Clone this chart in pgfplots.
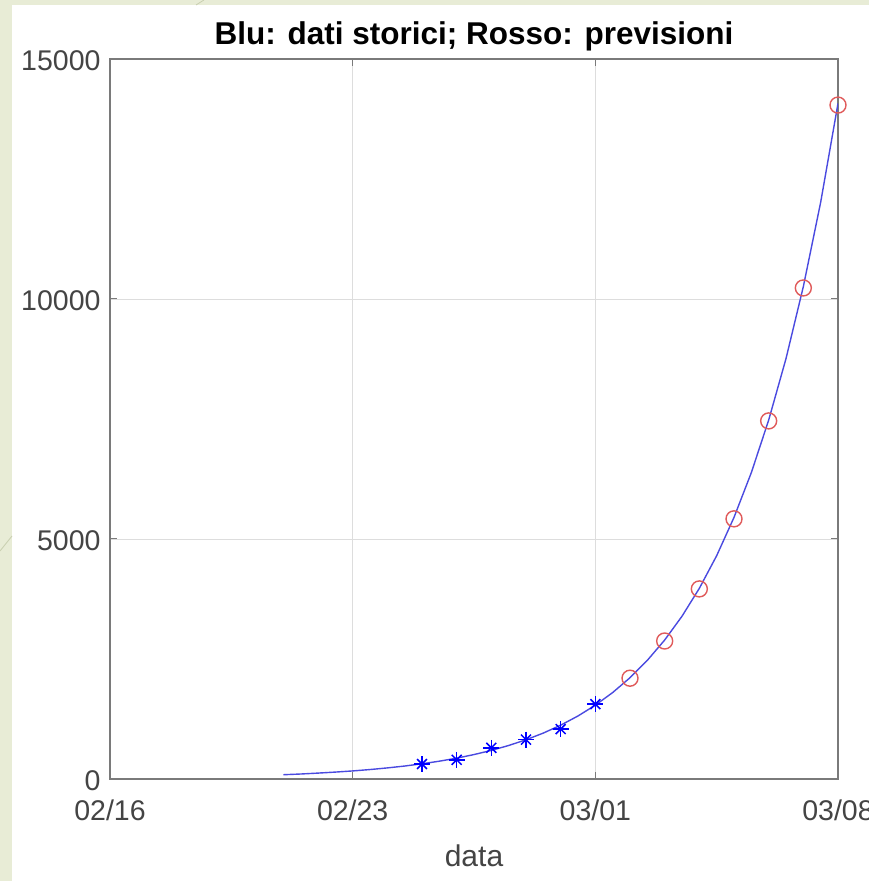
\documentclass[border=0pt]{standalone}
\usepackage{pgfplots}
\pgfplotsset{compat=1.18}
\usepackage{fontspec}
\setmainfont{Liberation Sans}
\definecolor{bgbeige}{HTML}{E8ECD6}
\definecolor{decoline}{HTML}{C9CFB0}
\definecolor{axgray}{HTML}{7A7A7A}
\definecolor{ticktext}{HTML}{444444}
\definecolor{gridgray}{HTML}{DDDDDD}
\definecolor{fitblue}{HTML}{4A4AE0}
\definecolor{predred}{HTML}{E05A5A}
\begin{document}
\begin{tikzpicture}[x=1pt,y=1pt]
\path[use as bounding box] (0,0) rectangle (869,881);
\fill[bgbeige] (0,0) rectangle (869,881);
\fill[white] (12,0) rectangle (869,876);
\draw[decoline, line width=0.8pt] (196,876) -- (204,881);
\draw[decoline, line width=0.8pt] (0,330) -- (12,345);
\begin{axis}[
  at={(110pt,102pt)}, anchor=south west,
  scale only axis, width=728pt, height=720pt,
  xmin=0, xmax=21, ymin=0, ymax=15000,
  xtick={0,7,14,21}, xticklabels={02/16,02/23,03/01,03/08},
  ytick={0,5000,10000,15000},
  scaled y ticks=false,
  /pgf/number format/.cd, 1000 sep={}, assume math mode=true, /pgfplots/.cd,
  tick align=inside, major tick length=7pt,
  tick style={axgray, line width=1pt},
  axis line style={axgray, line width=1.6pt},
  grid=major, major grid style={gridgray, line width=0.8pt},
  ticklabel style={font=\fontsize{28.5}{30}\selectfont, text=ticktext},
  xticklabel style={yshift=-17pt},
  yticklabel style={xshift=-6pt, yshift=-2pt},
  title={\textbf{Blu: dati storici; Rosso: previsioni}},
  title style={font=\fontsize{31.5}{34}\selectfont, yshift=-2pt},
  xlabel={data},
  xlabel style={font=\fontsize{30}{32}\selectfont, text=ticktext, yshift=-17pt},
]
\addplot[fitblue, line width=1.4pt] coordinates {
(5,89) (5.5,104) (6,123) (6.5,144) (7,168) (7.5,197) (8,231) (8.5,270)
(9,317) (9.5,371) (10,434) (10.5,509) (11,596) (11.5,698) (12,817)
(12.5,957) (13,1121) (13.5,1313) (14,1538) (14.5,1801) (15,2110)
(15.5,2472) (16,2895) (16.5,3391) (17,3972) (17.5,4652) (18,5450)
(18.5,6383) (19,7477) (19.5,8758) (20,10258) (20.5,12015) (21,14074)
};
\addplot[only marks, mark=+, mark size=8pt, blue, line width=1.5pt] coordinates {
(9,312) (10,400) (11,650) (12,820) (13,1040) (14,1560)
};
\addplot[only marks, mark=x, mark size=7pt, blue, line width=1.5pt] coordinates {
(9,312) (10,400) (11,650) (12,820) (13,1040) (14,1560)
};
\addplot[only marks, mark=o, mark size=8pt, predred, line width=1.4pt] coordinates {
(15,2100) (16,2875) (17,3960) (18,5420) (19,7460) (20,10230) (21,14040)
};
\end{axis}
\end{tikzpicture}
\end{document}
